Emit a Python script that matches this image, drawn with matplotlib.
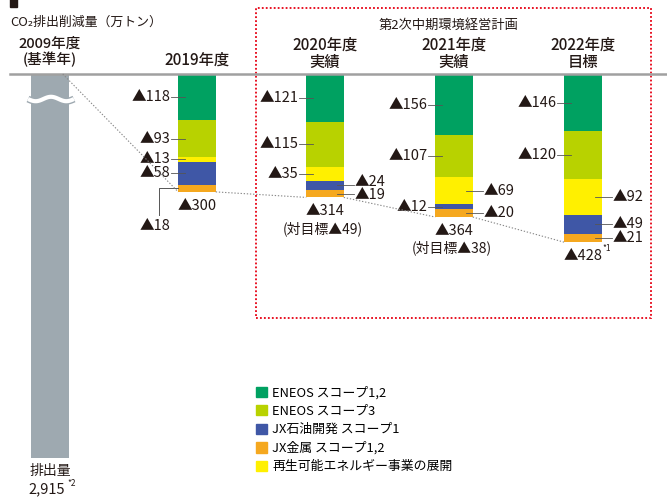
import numpy as np
import matplotlib
matplotlib.use("Agg")
import matplotlib.pyplot as plt
from matplotlib.patches import Rectangle, Patch

plt.rcParams['font.family'] = ['Noto Sans CJK JP', 'DejaVu Sans']

# data (万トン reduction, stacked from top)
years = ["2019年度", "2020年度\n実績", "2021年度\n実績", "2022年度\n目標"]
eneos_s12 = [118, 121, 156, 146]
eneos_s3 = [93, 115, 107, 120]
renewable = [13, 35, 69, 92]
jx_oil = [58, 24, 12, 49]
jx_metal = [18, 19, 20, 21]
vs_target = [None, "(対目標▲49)", "(対目標▲38)", None]
base_year = "2009年度\n(基準年)"
base_total = 2915
base_cut = 1938  # portion removed at the axis break

series = [eneos_s12, eneos_s3, renewable, jx_oil, jx_metal]
names = ["ENEOS スコープ1,2", "ENEOS スコープ3", "再生可能エネルギー事業の展開",
         "JX石油開発 スコープ1", "JX金属 スコープ1,2"]
colors = ["#00a161", "#b8d200", "#fff000", "#3f57a6", "#f5a81f"]
# label side per year per series: L / R
sides = [["L", "L", "L", "L", None],
         ["L", "L", "L", "R", "R"],
         ["L", "L", "R", "L", "R"],
         ["L", "L", "R", "R", "R"]]
nudge = {(1, 3): -3, (1, 4): 1}  # px shifts for crowded labels

W, H = 667, 498
k = 0.393   # px per unit
y0 = 74     # px of the zero line


def Y(p):
    return (p - y0) / k


fig = plt.figure(figsize=(W / 100, H / 100), dpi=100)
ax = fig.add_axes([0, 0, 1, 1])
ax.set_xlim(0, W)
ax.set_ylim(Y(H), Y(0))
ax.axis('off')

xs = [197, 325, 454, 583]
xb = 50
bw = 37.5
tc = "#231815"
fs = 10.5

# base year bar (broken)
ax.bar(xb, base_total - base_cut, width=bw, bottom=0, color="#9ea9b0", zorder=2)
wx = np.linspace(xb - 22, xb + 24, 100)
wy = Y(99) + 2.2 / k * np.sin((wx - wx[0]) / 46 * 2 * np.pi * 1.5)
ax.plot(wx, wy, color="#9ea9b0", lw=5, zorder=3, solid_capstyle='butt')
ax.plot(wx, wy, color="white", lw=3, zorder=4, solid_capstyle='butt')

# stacked bars
totals = np.sum(series, axis=0)
bottoms = np.zeros(len(xs))
for s, (vals, c, nm) in enumerate(zip(series, colors, names)):
    ax.bar(xs, vals, width=bw, bottom=bottoms, color=c, zorder=2, label=nm)
    for i, v in enumerate(vals):
        yc = bottoms[i] + v / 2
        yt = yc + nudge.get((i, s), 0) / k
        side = sides[i][s]
        if side == "L":
            xl = xs[i] - bw / 2
            ax.plot([xl - 7, xl + 7], [yc, yc], color="#555555", lw=0.6, zorder=5)
            ax.text(xl - 8, yt, f"▲{v}", ha="right", va="center", fontsize=fs, color=tc)
        elif side == "R":
            xr = xs[i] + bw / 2
            ax.plot([xr - 7, xr + 10], [yc, yc], color="#555555", lw=0.6, zorder=5)
            ax.text(xr + 11, yt, f"▲{v}", ha="left", va="center", fontsize=fs, color=tc)
    bottoms += vals

# special bracket label for 2019 JX metals
yc = totals[0] - jx_metal[0] / 2
xl = xs[0] - bw / 2
ax.plot([xl, xl - 19, xl - 19], [yc, yc, Y(215)], color="#555555", lw=0.7, zorder=5)
ax.text(xl - 23, Y(226), f"▲{jx_metal[0]}", ha="center", va="center", fontsize=fs, color=tc)

# totals below bars
for i, t in enumerate(totals):
    ax.text(xs[i], t + 14 / k, f"▲{t}", ha="center", va="center", fontsize=fs, color=tc)
    if vs_target[i]:
        ax.text(xs[i] - 2, t + 31 / k, vs_target[i], ha="center", va="center",
                fontsize=fs - 0.5, color=tc)
ax.text(xs[3] + 19, totals[3] + 6 / k, "*1", ha="left", va="center", fontsize=6, color=tc)

# dotted connecting line
px = [xb + bw / 2 - 6]
py = [0]
for i, t in enumerate(totals):
    px += [xs[i] - bw / 2, xs[i] + bw / 2]
    py += [t, t]
for i in range(0, len(px) - 1, 2):
    ax.plot(px[i:i + 2], py[i:i + 2], color="#888888", lw=0.8, ls=(0, (1.2, 1.6)), zorder=6)

# zero line
ax.plot([10, W], [0, 0], color="#a0a0a0", lw=1.8, zorder=3)

# headers
ax.text(10, Y(22), "CO₂排出削減量（万トン）", ha="left", va="center", fontsize=9.3, color=tc)
ax.text(xb, Y(52), base_year, ha="center", va="center", fontsize=10.5, color=tc,
        linespacing=1.1, fontweight="medium")
for i, lab in enumerate(years):
    yy = Y(60) if "\n" not in lab else Y(54)
    ax.text(xs[i], yy, lab, ha="center", va="center", fontsize=11, color=tc,
            linespacing=1.05, fontweight="medium")
ax.text(xb, Y(471), "排出量", ha="center", va="center", fontsize=10, color=tc)
ax.text(xb - 3, Y(489), f"{base_total:,}", ha="center", va="center", fontsize=10.5, color=tc)
ax.text(xb + 17, Y(483), "*2", ha="left", va="center", fontsize=6, color=tc)

# plan frame
ax.add_patch(Rectangle((256, Y(318)), 395, Y(8) - Y(318), fill=False, ec="#e60012",
                       lw=1.3, ls=(0, (1, 1.2)), zorder=1))
ax.text(448, Y(25), "第2次中期環境経営計画", ha="center", va="center", fontsize=9.5, color=tc)

# top cut-off heading mark
ax.add_patch(Rectangle((10, Y(7)), 7, Y(0) - Y(7) - 5, color="#231815", zorder=1))

# legend
order = [0, 1, 3, 4, 2]
leg_h = [Patch(color=colors[j]) for j in order]
leg_l = [names[j] for j in order]
ax.legend(leg_h, leg_l, loc="upper left", bbox_to_anchor=(256 / W, 1 - 386 / H),
          frameon=False, fontsize=9.3, handlelength=0.85, handleheight=0.85,
          handletextpad=0.4, labelspacing=0.42, borderaxespad=0, borderpad=0)

fig.savefig("out.png", dpi=100)
